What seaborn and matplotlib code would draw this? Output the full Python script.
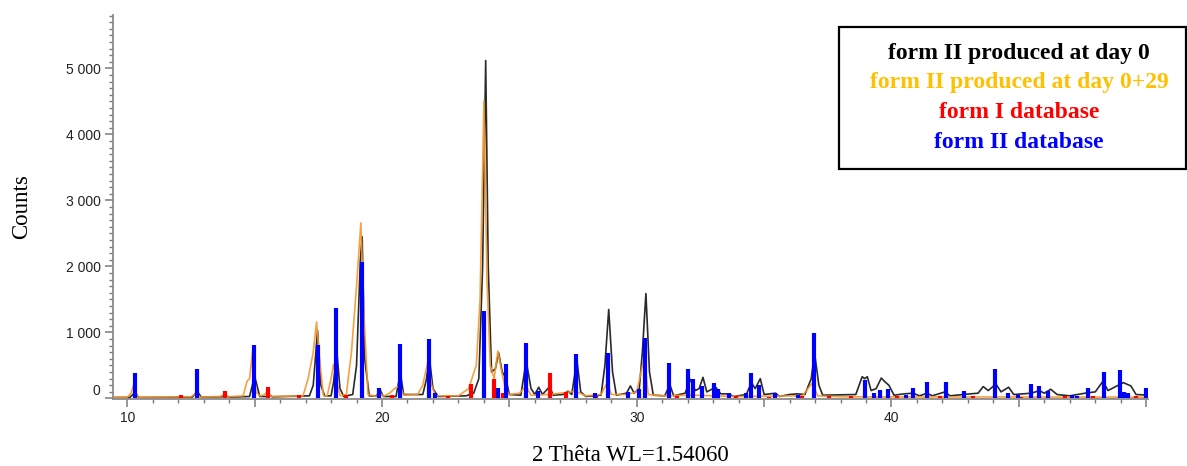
import matplotlib
matplotlib.use("Agg")
import matplotlib.pyplot as plt
import matplotlib.transforms as mtransforms
from matplotlib.patches import Rectangle
from matplotlib.ticker import MultipleLocator, FixedLocator, FuncFormatter
import pandas as pd
import seaborn as sns

# --------------------------------------------
# Measured pattern: form II at day 0 (profile vertices)
# --------------------------------------------
day0_theta = [9.45, 10.1, 10.3, 10.45, 12.55, 12.75, 12.9, 13.7, 13.85, 14.0,
              14.8, 15.0, 15.2, 15.45, 15.55, 15.7, 17.15, 17.3, 17.47, 17.6,
              17.75, 18.0, 18.1, 18.23, 18.35, 18.5, 18.85, 19.0, 19.15, 19.22,
              19.32, 19.5, 19.8, 19.9, 20.05, 20.55, 20.72, 20.85, 21.6, 21.75,
              21.85, 22.0, 22.2, 23.3, 23.6, 23.8, 23.95, 24.07, 24.17, 24.3,
              24.45, 24.58, 24.72, 24.85, 25.0, 25.45, 25.66, 25.85, 26.0, 26.15,
              26.3, 26.58, 26.72, 27.1, 27.3, 27.45, 27.65, 27.8, 28.0, 28.6,
              28.75, 28.9, 29.05, 29.2, 29.6, 29.75, 29.9, 30.1, 30.22, 30.36,
              30.5, 30.65, 31.1, 31.3, 31.45, 31.9, 32.1, 32.3, 32.45, 32.6,
              32.75, 33.1, 33.3, 33.6, 33.8, 34.3, 34.5, 34.65, 34.85, 35.0,
              35.45, 35.6, 36.0, 36.3, 36.6, 36.85, 36.98, 37.15, 37.3, 38.6,
              38.85, 38.95, 39.05, 39.2, 39.4, 39.6, 39.75, 39.9, 40.1, 40.5,
              40.85, 41.1, 41.4, 41.6, 42.1, 42.3, 42.8, 43.4, 43.6, 43.8,
              44.1, 44.3, 44.6, 44.8, 45.5, 45.8, 46.0, 46.25, 46.5, 47.0,
              47.6, 48.0, 48.3, 48.5, 48.9, 49.1, 49.4, 49.6, 50.1]
day0_counts = [15, 15, 90, 15, 20, 110, 20, 25, 45, 20,
               30, 340, 30, 30, 60, 25, 40, 200, 1030, 200,
               40, 40, 250, 700, 150, 30, 60, 500, 2100, 2450,
               600, 40, 40, 150, 30, 30, 390, 60, 60, 300,
               650, 150, 30, 40, 80, 300, 2000, 5120, 2000, 400,
               450, 690, 400, 320, 60, 50, 570, 150, 60, 170,
               60, 180, 50, 60, 110, 60, 590, 100, 30, 50,
               500, 1348, 400, 50, 80, 190, 80, 150, 700, 1590,
               400, 50, 40, 210, 40, 80, 290, 120, 150, 320,
               100, 170, 70, 70, 30, 60, 240, 150, 300, 60,
               80, 30, 60, 70, 60, 300, 690, 200, 50, 60,
               330, 300, 330, 120, 150, 310, 250, 200, 50, 70,
               80, 40, 80, 40, 100, 40, 60, 80, 180, 120,
               220, 100, 170, 60, 80, 120, 80, 140, 60, 40,
               80, 100, 260, 120, 200, 240, 190, 60, 50]

# --------------------------------------------
# Measured pattern: form II at day 0+29
# --------------------------------------------
day29_theta = [9.45, 10.0, 10.15, 10.25, 10.4, 12.5, 12.7, 12.85, 13.65, 13.8,
               13.95, 14.55, 14.7, 14.8, 14.92, 15.05, 15.2, 15.35, 15.5, 15.65,
               16.9, 17.1, 17.3, 17.43, 17.55, 17.7, 17.85, 18.0, 18.1, 18.2,
               18.35, 18.6, 18.8, 19.0, 19.17, 19.3, 19.45, 19.8, 19.9, 20.05,
               20.3, 20.5, 20.7, 20.85, 21.4, 21.6, 21.8, 21.95, 22.1, 23.0,
               23.4, 23.7, 23.85, 24.0, 24.12, 24.25, 24.4, 24.55, 24.7, 24.85,
               25.0, 25.4, 25.65, 25.85, 26.5, 27.0, 27.6, 28.0, 28.6, 28.85,
               29.0, 29.6, 30.0, 30.3, 30.45, 31.0, 32.2, 33.0, 34.0, 36.5,
               36.9, 37.1, 38.0, 50.1]
day29_counts = [20, 20, 80, 210, 20, 25, 80, 20, 30, 60,
                25, 40, 260, 300, 717, 100, 40, 50, 100, 30,
                40, 300, 700, 1160, 600, 40, 40, 300, 520, 300,
                40, 60, 700, 1700, 2660, 1200, 60, 30, 90, 30,
                80, 150, 200, 50, 60, 200, 560, 200, 40, 40,
                150, 500, 1500, 4505, 1800, 500, 300, 720, 400, 150,
                60, 80, 190, 50, 60, 80, 110, 40, 60, 250,
                60, 60, 100, 640, 60, 40, 50, 40, 30, 40,
                237, 40, 25, 20]

# --------------------------------------------
# Reference patterns (stick positions / intensities)
# --------------------------------------------
form1_theta = [12.11, 13.83, 15.51, 16.75, 18.6, 20.4, 22.6, 23.5, 24.38, 24.75,
               26.58, 27.24, 28.4, 31.6, 33.9, 35.2, 36.5, 37.56, 38.4, 40.2,
               41.9, 43.2, 45.1, 46.8, 47.9, 49.6]
form1_counts = [50, 120, 177, 60, 50, 60, 30, 212, 288, 80,
                379, 96, 40, 30, 30, 25, 40, 40, 30, 30,
                35, 30, 25, 30, 40, 30]

form2_theta = [10.3, 12.75, 14.98, 17.49, 18.21, 19.21, 19.89, 20.7, 21.84, 22.07,
               24.0, 24.56, 24.85, 25.65, 26.11, 27.62, 28.38, 28.89, 29.65, 30.08,
               30.31, 31.28, 32.0, 32.2, 32.57, 33.02, 33.18, 33.63, 34.29, 34.49,
               34.81, 35.44, 36.32, 36.97, 38.97, 39.33, 39.53, 39.85, 40.57, 40.85,
               41.41, 42.13, 42.85, 44.06, 44.56, 44.98, 45.47, 45.79, 46.15, 47.1,
               47.3, 47.71, 48.33, 48.96, 49.14, 49.3, 49.98]
form2_counts = [379, 439, 808, 808, 1370, 2075, 162, 818, 894, 86,
                1323, 162, 515, 843, 111, 667, 90, 692, 100, 150,
                909, 530, 439, 298, 187, 227, 150, 80, 80, 379,
                197, 80, 60, 995, 278, 80, 130, 150, 60, 162,
                257, 257, 120, 454, 80, 60, 212, 187, 120, 50,
                40, 162, 399, 429, 100, 80, 162]

legend_labels = ["form II produced at day 0", "form II produced at day 0+29",
                 "form I database", "form II database"]
legend_colors = ["#000000", "#FFC000", "#FF0000", "#0000FF"]

# --------------------------------------------
# Plot
# --------------------------------------------
sns.set_theme(style="white")
plt.rcParams['font.family'] = ['Liberation Sans', 'DejaVu Sans']

W, H = 1187, 466
fig = plt.figure(figsize=(W / 100, H / 100), dpi=100)
ax = fig.add_axes([113 / W, 1 - 399 / H, (1148 - 113) / W, (399 - 15) / H])

df0 = pd.DataFrame({'theta': day0_theta, 'counts': day0_counts})
df29 = pd.DataFrame({'theta': day29_theta, 'counts': day29_counts})

sns.lineplot(data=df0, x='theta', y='counts', color='#2a2a2a', lw=1.2, ax=ax, sort=False)
sns.lineplot(data=df29, x='theta', y='counts', color='#F7962A', lw=1.2, alpha=0.9,
             ax=ax, sort=False)

ax.vlines(form1_theta, 0, form1_counts, colors='#FF0000', lw=3.0, zorder=3)
ax.vlines(form2_theta, 0, form2_counts, colors='#0000FF', lw=3.0, zorder=4)

ax.set_xlim(9.44, 50.07)
ax.set_ylim(-8, 5810)

# axes styling
for s in ['top', 'right']:
    ax.spines[s].set_visible(False)
for s in ['left', 'bottom']:
    ax.spines[s].set_color('#8a8a8a')
    ax.spines[s].set_linewidth(1.3)

ax.xaxis.set_major_locator(MultipleLocator(5))
ax.xaxis.set_minor_locator(MultipleLocator(1))
ax.xaxis.set_major_formatter(FuncFormatter(
    lambda v, p: f"{int(v)}" if int(v) % 10 == 0 and v < 45 else ""))
ax.yaxis.set_major_locator(FixedLocator([0, 1000, 2000, 3000, 4000, 5000]))
ax.yaxis.set_minor_locator(MultipleLocator(100))
ax.yaxis.set_major_formatter(FuncFormatter(lambda v, p: f"{int(v):,}".replace(",", " ")))

ax.tick_params(axis='both', which='major', direction='out', length=6, width=1.1,
               color='#7a7a7a', labelsize=10, labelcolor='#222222', pad=3,
               bottom=True, left=True)
ax.tick_params(axis='both', which='minor', direction='out', length=3, width=1.0,
               color='#7a7a7a', bottom=True, left=True)
ax.grid(False)

ax.set_xlabel("2 Thêta WL=1.54060", family=['Liberation Serif', 'DejaVu Serif'],
              fontsize=16.5, color='black', labelpad=14)
ax.set_ylabel("Counts", family=['Liberation Serif', 'DejaVu Serif'],
              fontsize=16.5, color='black')
ax.yaxis.set_label_coords(-0.078, 0.5)

# the "0" label sits a little above its tick in the original
lab0 = ax.yaxis.get_major_ticks()[0].label1
lab0.set_transform(lab0.get_transform() +
                   mtransforms.ScaledTranslation(0, 9 / 100, fig.dpi_scale_trans))

# legend box
fig.patches.append(Rectangle((839 / W, 1 - 169 / H), (1186 - 839) / W, 142 / H,
                             transform=fig.transFigure, fill=False,
                             edgecolor='black', lw=1.6))
for i, (txt, c) in enumerate(zip(legend_labels, legend_colors)):
    fig.text(1019 / W, 1 - (53.5 + 29.5 * i) / H, txt, color=c, fontsize=17,
             fontweight='bold', family=['Liberation Serif', 'DejaVu Serif'],
             ha='center', va='center')

plt.savefig("out.png", dpi=100)
plt.close()
